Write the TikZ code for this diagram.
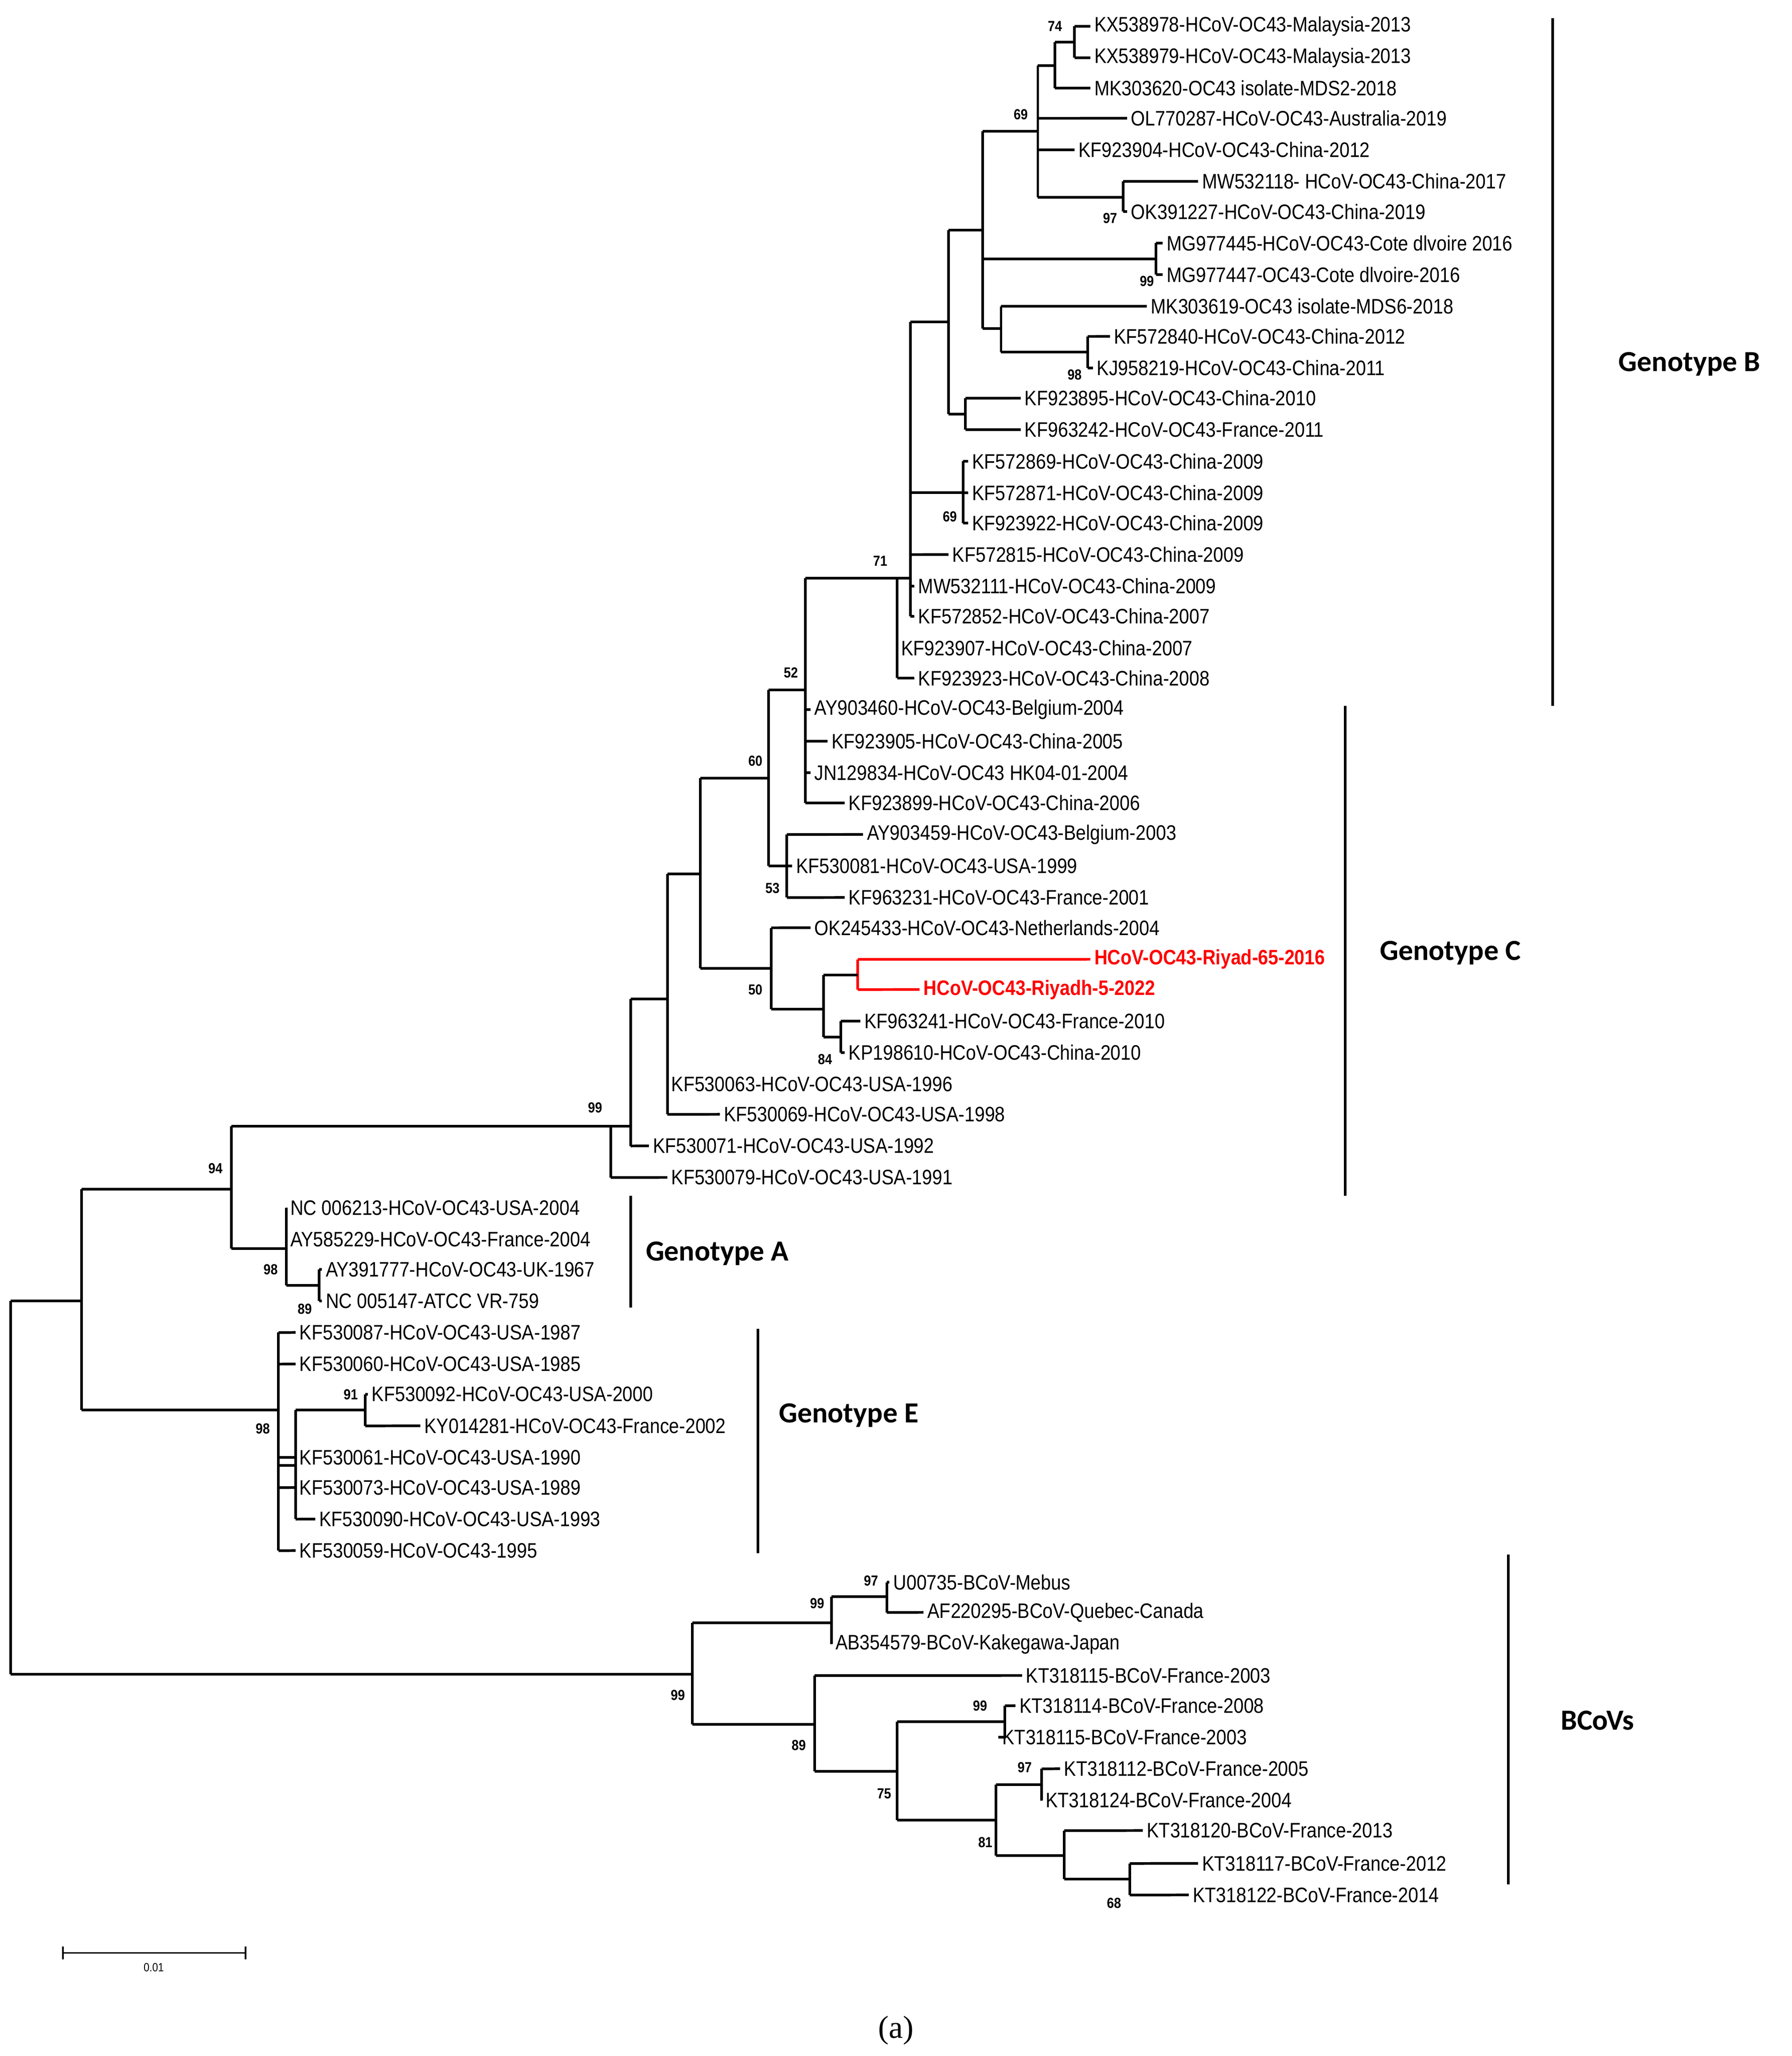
\documentclass[tikz,border=0pt]{standalone}
\usepackage{fontspec}
\setmainfont{Liberation Sans}[FakeStretch=0.87]
\newfontfamily\serifa{Liberation Serif}
\newfontfamily\carl{Carlito}
\begin{document}
\begin{tikzpicture}[x=1pt,y=-1pt,line width=2pt,
 leaf/.style={anchor=west,inner xsep=2pt,inner ysep=0pt,font=\fontsize{15.8}{16}\selectfont},
 bs/.style={font=\bfseries\fontsize{11}{11}\selectfont,inner sep=0pt},
 geno/.style={font=\carl\bfseries\fontsize{22}{22}\selectfont},
 red/.style={color=red,draw=red}]
\useasboundingbox (0,0) rectangle (1353,1552);
\begin{scope}[xscale=0.992,yscale=0.992]
\newcommand\lf[5]{\node[leaf] (#1) at (#4,#3) {#5}; \draw (#2,#3) -- (#1.west);}
\newcommand\lfr[5]{\node[leaf,text=red,font=\bfseries\fontsize{15.8}{16}\selectfont] (#1) at (#4,#3) {#5}; \draw[red] (#2,#3) -- (#1.west);}
\newcommand\inode[4]{\coordinate (#1) at (#2,{(#3+#4)/2}); \draw (#2,#3) -- (#2,#4);}
\newcommand\lk[3]{\draw (#1,#3) -- (#2,#3);}
% Genotype B
\lf{l1}{818}{20}{830}{KX538978-HCoV-OC43-Malaysia-2013}
\lf{l2}{818}{44}{830}{KX538979-HCoV-OC43-Malaysia-2013}
\inode{n74}{818}{20}{44}\lk{803}{818}{32}
\lf{l3}{803}{67}{830}{MK303620-OC43 isolate-MDS2-2018}
\inode{n803}{803}{32}{67}\lk{790}{803}{50}
\lf{l4}{790}{90}{858}{OL770287-HCoV-OC43-Australia-2019}
\lf{l5}{790}{114}{818}{KF923904-HCoV-OC43-China-2012}
\lf{l6}{855}{138}{912}{MW532118- HCoV-OC43-China-2017}
\lf{l7}{855}{161}{858}{OK391227-HCoV-OC43-China-2019}
\inode{n97a}{855}{138}{161}\lk{790}{855}{150}
\inode{n69}{790}{50}{150}\lk{748}{790}{100}
\lf{l8}{880}{185}{885}{MG977445-HCoV-OC43-Cote dlvoire 2016}
\lf{l9}{880}{209}{885}{MG977447-OC43-Cote dlvoire-2016}
\inode{n99a}{880}{185}{209}\lk{748}{880}{197}
\lf{l10}{762}{233}{873}{MK303619-OC43 isolate-MDS6-2018}
\lf{l11}{828}{256}{845}{KF572840-HCoV-OC43-China-2012}
\lf{l12}{828}{280}{832}{KJ958219-HCoV-OC43-China-2011}
\inode{n98a}{828}{256}{280}\lk{762}{828}{268}
\inode{n762}{762}{233}{268}\lk{748}{762}{250}
\inode{n748}{748}{100}{250}\lk{722}{748}{175}
\lf{l13}{735}{303}{777}{KF923895-HCoV-OC43-China-2010}
\lf{l14}{735}{327}{777}{KF963242-HCoV-OC43-France-2011}
\inode{n735}{735}{303}{327}\lk{722}{735}{315}
\inode{n722}{722}{175}{315}\lk{693}{722}{245}
\lf{l15}{733}{351}{737}{KF572869-HCoV-OC43-China-2009}
\lf{l16}{733}{375}{737}{KF572871-HCoV-OC43-China-2009}
\lf{l17}{733}{398}{737}{KF923922-HCoV-OC43-China-2009}
\inode{n69b}{733}{351}{398}\lk{693}{733}{375}
\lf{l18}{693}{422}{722}{KF572815-HCoV-OC43-China-2009}
\lf{l19}{693}{446}{696}{MW532111-HCoV-OC43-China-2009}
\lf{l20}{693}{469}{696}{KF572852-HCoV-OC43-China-2007}
\inode{n693}{693}{245}{469}\lk{683}{693}{440}
\lf{l21}{683}{493}{683}{KF923907-HCoV-OC43-China-2007}
\lf{l22}{683}{516}{696}{KF923923-HCoV-OC43-China-2008}
\inode{n683}{683}{440}{516}\lk{613}{683}{440}
% Genotype C
\lf{l23}{613}{540}{617}{AY903460-HCoV-OC43-Belgium-2004}
\lf{l24}{613}{564}{630}{KF923905-HCoV-OC43-China-2005}
\lf{l25}{613}{588}{617}{JN129834-HCoV-OC43 HK04-01-2004}
\lf{l26}{613}{611}{643}{KF923899-HCoV-OC43-China-2006}
\inode{n613}{613}{440}{611}\lk{585}{613}{525}
\lf{l27}{599}{635}{657}{AY903459-HCoV-OC43-Belgium-2003}
\lf{l28}{599}{659}{603}{KF530081-HCoV-OC43-USA-1999}
\lf{l29}{599}{683}{643}{KF963231-HCoV-OC43-France-2001}
\inode{n53}{599}{635}{683}\lk{585}{599}{659}
\inode{n585}{585}{525}{659}\lk{533}{585}{592}
\lf{l30}{587}{706}{617}{OK245433-HCoV-OC43-Netherlands-2004}
\lfr{l31}{653}{730}{830}{HCoV-OC43-Riyad-65-2016}
\lfr{l32}{653}{753}{700}{HCoV-OC43-Riyadh-5-2022}
\draw[red] (653,730) -- (653,753); \coordinate (n653) at (653,742); \lk{627}{653}{742}
\lf{l33}{640}{777}{655}{KF963241-HCoV-OC43-France-2010}
\lf{l34}{640}{801}{643}{KP198610-HCoV-OC43-China-2010}
\inode{n84}{640}{777}{801}\lk{627}{640}{789}
\inode{n627}{627}{742}{789}\lk{587}{627}{768}
\inode{n50}{587}{706}{768}\lk{533}{587}{737}
\inode{n533}{533}{592}{737}\lk{508}{533}{665}
\lf{l35}{508}{825}{508}{KF530063-HCoV-OC43-USA-1996}
\lf{l36}{508}{848}{548}{KF530069-HCoV-OC43-USA-1998}
\inode{n508}{508}{665}{848}\lk{480}{508}{760}
\lf{l37}{480}{872}{494}{KF530071-HCoV-OC43-USA-1992}
\inode{n480}{480}{760}{872}\lk{465}{480}{857}
\lf{l38}{465}{896}{508}{KF530079-HCoV-OC43-USA-1991}
\inode{n99c}{465}{857}{896}\lk{176}{465}{857}
% Genotype A
\lf{l39}{218}{919}{218}{NC 006213-HCoV-OC43-USA-2004}
\lf{l40}{218}{943}{218}{AY585229-HCoV-OC43-France-2004}
\lf{l41}{243}{966}{245}{AY391777-HCoV-OC43-UK-1967}
\lf{l42}{243}{990}{245}{NC 005147-ATCC VR-759}
\inode{n89}{243}{966}{990}\lk{218}{243}{978}
\inode{n98b}{218}{919}{978}\lk{176}{218}{950}
\inode{n94}{176}{857}{950}\lk{62}{176}{905}
% Genotype E
\lf{l43}{212}{1014}{225}{KF530087-HCoV-OC43-USA-1987}
\lf{l44}{212}{1038}{225}{KF530060-HCoV-OC43-USA-1985}
\lf{l45}{278}{1061}{280}{KF530092-HCoV-OC43-USA-2000}
\lf{l46}{278}{1085}{320}{KY014281-HCoV-OC43-France-2002}
\inode{n91}{278}{1061}{1085}\lk{225}{278}{1073}
\lf{l47}{212}{1109}{225}{KF530061-HCoV-OC43-USA-1990}
\lf{l48}{212}{1132}{225}{KF530073-HCoV-OC43-USA-1989}
\lf{l49}{225}{1156}{240}{KF530090-HCoV-OC43-USA-1993}
\lf{l50}{212}{1180}{225}{KF530059-HCoV-OC43-1995}
\inode{n225}{225}{1073}{1156}\lk{212}{225}{1115}
\inode{n98e}{212}{1014}{1180}\lk{62}{212}{1073}
\inode{n62}{62}{905}{1073}\lk{8}{62}{990}
% BCoVs
\lf{l51}{675}{1204}{677}{U00735-BCoV-Mebus}
\lf{l52}{675}{1227}{703}{AF220295-BCoV-Quebec-Canada}
\inode{n97b}{675}{1204}{1227}\lk{633}{675}{1215}
\lf{l53}{633}{1251}{633}{AB354579-BCoV-Kakegawa-Japan}
\inode{n99d}{633}{1215}{1251}\lk{527}{633}{1235}
\lf{l54}{620}{1275}{778}{KT318115-BCoV-France-2003}
\lf{l55}{765}{1298}{773}{KT318114-BCoV-France-2008}
\lf{l56}{765}{1322}{760}{KT318115-BCoV-France-2003}
\inode{n99e}{765}{1298}{1322}\lk{683}{765}{1310}
\lf{l57}{793}{1346}{807}{KT318112-BCoV-France-2005}
\lf{l58}{793}{1370}{793}{KT318124-BCoV-France-2004}
\inode{n97c}{793}{1346}{1370}\lk{758}{793}{1358}
\lf{l59}{810}{1393}{870}{KT318120-BCoV-France-2013}
\lf{l60}{860}{1418}{912}{KT318117-BCoV-France-2012}
\lf{l61}{860}{1442}{905}{KT318122-BCoV-France-2014}
\inode{n68}{860}{1418}{1442}\lk{810}{860}{1430}
\inode{n810}{810}{1393}{1430}\lk{758}{810}{1412}
\inode{n81}{758}{1358}{1412}\lk{683}{758}{1385}
\inode{n75}{683}{1310}{1385}\lk{620}{683}{1348}
\inode{n89b}{620}{1275}{1348}\lk{527}{620}{1312}
\inode{n99f}{527}{1235}{1312}\lk{8}{527}{1274}
\inode{root}{8}{990}{1274}
% bootstrap values
\foreach \v/\x/\y in {74/803/20,69/777/87,97/845/166,99/873/214,98/818/285,69/723/393,71/670/427,52/602/512,60/575/579,53/588/676,50/575/753,84/628/806,99/453/843,94/164/889,98/206/966,89/232/996,91/267/1061,98/200/1087,97/663/1203,99/622/1220,99/516/1290,99/746/1298,89/608/1328,97/780/1345,75/673/1365,81/750/1402,68/848/1448}
  \node[bs] at (\x,\y) {\v};
% clade bars
\draw (1182,14) -- (1182,537); \node[geno] (gB) at (1286,277) {Genotype B};
\draw (1024,537) -- (1024,910); \node[geno] (gC) at (1104,725) {Genotype C};
\draw (480,910) -- (480,995); \node[geno] (gA) at (546,954) {Genotype A};
\draw (577,1011) -- (577,1182); \node[geno] (gE) at (646,1077) {Genotype E};
\draw (1148,1183) -- (1148,1434); \node[geno] (gBC) at (1216,1309) {BCoVs};
% scale bar
\draw[line width=1.2pt] (48,1486) -- (187,1486);
\draw[line width=1.2pt] (48,1481) -- (48,1491) (187,1481) -- (187,1491);
\node[font=\fontsize{9}{9}\selectfont] (sc) at (117,1497) {0.01};
\node[font=\serifa\fontsize{24}{24}\selectfont] (cap) at (682,1545) {(a)};
\end{scope}
\end{tikzpicture}
\end{document}
